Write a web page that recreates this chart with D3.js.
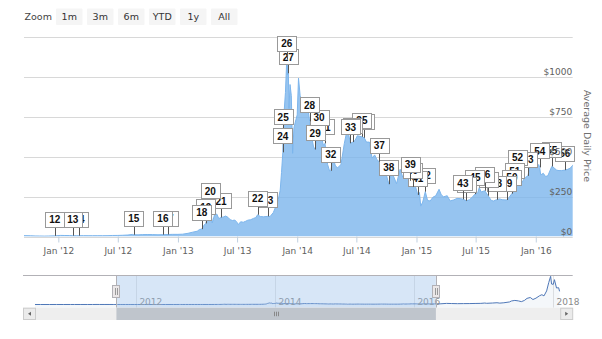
<!DOCTYPE html>
<html>
<head>
<meta charset="utf-8">
<script src="https://cdn.jsdelivr.net/npm/d3@7/dist/d3.min.js"></script>
<style>
  html, body { margin: 0; padding: 0; background: #fff; }
  svg { display: block; font-family: "DejaVu Sans", sans-serif; }
</style>
</head>
<body>
<svg id="chart" width="602" height="339"></svg>
<script>
// Average daily bitcoin price (USD), viewed window
const avgPrice = [
  ["2011-09-10", 5.5], ["2011-09-24", 5.2], ["2011-10-08", 4.5], ["2011-10-22", 3.4],
  ["2011-11-05", 3.0], ["2011-11-19", 2.4], ["2011-12-03", 3.0], ["2011-12-21", 4.0],
  ["2012-01-07", 6.8], ["2012-01-21", 6.3], ["2012-02-04", 5.9], ["2012-02-14", 5.0],
  ["2012-02-25", 4.9], ["2012-03-04", 5.0], ["2012-03-18", 5.3], ["2012-04-01", 4.9],
  ["2012-04-15", 4.9], ["2012-05-01", 5.0], ["2012-05-15", 5.0], ["2012-06-01", 5.3],
  ["2012-06-15", 6.4], ["2012-07-01", 6.7], ["2012-07-15", 7.6], ["2012-08-01", 9.3],
  ["2012-08-15", 13.0], ["2012-08-19", 11.0], ["2012-09-01", 10.2], ["2012-09-15", 11.8],
  ["2012-10-01", 12.4], ["2012-10-15", 11.8], ["2012-11-01", 10.7], ["2012-11-16", 11.5],
  ["2012-12-02", 12.5], ["2012-12-15", 13.4], ["2013-01-01", 13.4], ["2013-01-15", 14.5],
  ["2013-02-01", 20], ["2013-02-15", 27], ["2013-03-01", 33], ["2013-03-08", 44],
  ["2013-03-15", 46], ["2013-03-21", 68], ["2013-03-27", 82], ["2013-04-03", 125],
  ["2013-04-10", 182], ["2013-04-16", 85], ["2013-04-23", 135], ["2013-04-30", 140],
  ["2013-05-06", 112], ["2013-05-13", 119], ["2013-05-20", 122], ["2013-05-27", 128],
  ["2013-06-03", 120], ["2013-06-10", 105], ["2013-06-17", 100], ["2013-06-24", 103],
  ["2013-07-01", 88], ["2013-07-05", 75], ["2013-07-12", 92], ["2013-07-20", 89],
  ["2013-07-27", 95], ["2013-08-03", 102], ["2013-08-12", 105], ["2013-08-20", 113],
  ["2013-08-27", 118], ["2013-09-02", 136], ["2013-09-10", 125], ["2013-09-20", 123],
  ["2013-10-03", 126], ["2013-10-10", 125], ["2013-10-20", 150], ["2013-10-28", 190],
  ["2013-11-04", 230], ["2013-11-10", 290], ["2013-11-14", 400], ["2013-11-18", 526],
  ["2013-11-19", 644], ["2013-11-22", 780], ["2013-11-26", 900], ["2013-11-30", 1105],
  ["2013-12-02", 1010], ["2013-12-04", 1090], ["2013-12-05", 1020], ["2013-12-07", 800],
  ["2013-12-10", 950], ["2013-12-14", 880], ["2013-12-18", 520], ["2013-12-22", 680],
  ["2013-12-28", 730], ["2014-01-01", 760], ["2014-01-05", 990], ["2014-01-10", 880],
  ["2014-01-17", 830], ["2014-01-25", 840], ["2014-02-01", 830], ["2014-02-08", 720],
  ["2014-02-13", 640], ["2014-02-20", 560], ["2014-02-25", 544], ["2014-03-03", 670],
  ["2014-03-09", 640], ["2014-03-15", 635], ["2014-03-22", 570], ["2014-03-27", 582],
  ["2014-04-04", 450], ["2014-04-10", 410], ["2014-04-14", 411], ["2014-04-20", 500],
  ["2014-04-28", 440], ["2014-05-05", 430], ["2014-05-15", 450], ["2014-05-25", 580],
  ["2014-06-01", 650], ["2014-06-05", 660], ["2014-06-13", 583], ["2014-06-20", 590],
  ["2014-06-27", 600], ["2014-07-04", 630], ["2014-07-18", 623], ["2014-07-25", 617],
  ["2014-08-01", 590], ["2014-08-10", 590], ["2014-08-18", 490], ["2014-08-26", 510],
  ["2014-09-02", 480], ["2014-09-09", 467], ["2014-09-18", 420], ["2014-09-24", 410],
  ["2014-10-01", 385], ["2014-10-08", 327], ["2014-10-14", 395], ["2014-10-22", 380],
  ["2014-11-01", 330], ["2014-11-12", 420], ["2014-11-20", 370], ["2014-11-28", 375],
  ["2014-12-05", 370], ["2014-12-13", 348], ["2014-12-20", 310], ["2014-12-28", 320],
  ["2015-01-05", 260], ["2015-01-10", 275], ["2015-01-14", 190], ["2015-01-20", 215],
  ["2015-01-28", 280], ["2015-02-04", 225], ["2015-02-12", 222], ["2015-02-20", 245],
  ["2015-03-01", 255], ["2015-03-11", 295], ["2015-03-18", 260], ["2015-03-25", 248],
  ["2015-04-05", 255], ["2015-04-14", 222], ["2015-04-24", 228], ["2015-05-05", 238],
  ["2015-05-15", 237], ["2015-05-23", 233], ["2015-06-03", 223], ["2015-06-12", 230],
  ["2015-06-20", 244], ["2015-06-29", 265], ["2015-07-07", 270], ["2015-07-12", 305],
  ["2015-07-18", 278], ["2015-07-29", 286], ["2015-08-08", 255], ["2015-08-18", 225],
  ["2015-08-25", 222], ["2015-09-03", 230], ["2015-09-12", 235], ["2015-09-20", 230],
  ["2015-10-04", 228], ["2015-10-12", 246], ["2015-10-20", 268], ["2015-10-29", 307],
  ["2015-11-04", 420], ["2015-11-06", 390], ["2015-11-11", 320], ["2015-11-18", 330],
  ["2015-11-26", 360], ["2015-12-01", 370], ["2015-12-08", 379], ["2015-12-15", 450],
  ["2015-12-22", 440], ["2015-12-30", 430], ["2016-01-05", 430], ["2016-01-10", 450],
  ["2016-01-13", 432], ["2016-01-16", 385], ["2016-01-24", 395], ["2016-01-31", 375],
  ["2016-02-07", 380], ["2016-02-19", 438], ["2016-02-26", 430], ["2016-03-04", 415],
  ["2016-03-12", 412], ["2016-03-20", 412], ["2016-03-30", 415], ["2016-04-08", 420],
  ["2016-04-16", 428], ["2016-04-25", 450]
];

// Longer history shown only in the navigator strip
const historyBefore = [
  ["2010-07-17", 0.05], ["2010-08-15", 0.07], ["2010-10-01", 0.06], ["2010-11-07", 0.35],
  ["2010-12-15", 0.24], ["2011-01-20", 0.4], ["2011-02-10", 1.0], ["2011-03-15", 0.85],
  ["2011-04-20", 1.5], ["2011-05-15", 7], ["2011-06-08", 29], ["2011-06-20", 16],
  ["2011-07-15", 14], ["2011-08-15", 11], ["2011-09-01", 8]
];
const historyAfter = [
  ["2016-05-15", 455], ["2016-06-18", 750], ["2016-07-15", 660], ["2016-08-15", 575],
  ["2016-09-15", 610], ["2016-10-15", 640], ["2016-11-15", 710], ["2016-12-15", 780],
  ["2017-01-05", 1000], ["2017-01-15", 820], ["2017-02-15", 1010], ["2017-03-10", 1200],
  ["2017-03-25", 950], ["2017-04-15", 1180], ["2017-05-15", 1750], ["2017-05-25", 2400],
  ["2017-06-12", 2800], ["2017-07-01", 2450], ["2017-07-16", 1950], ["2017-08-01", 2750],
  ["2017-08-15", 4200], ["2017-09-01", 4800], ["2017-09-15", 3400], ["2017-10-01", 4350],
  ["2017-10-20", 6000], ["2017-11-01", 6700], ["2017-11-12", 5900], ["2017-11-26", 9300],
  ["2017-12-07", 15000], ["2017-12-17", 19300], ["2017-12-22", 14000], ["2017-12-31", 13800],
  ["2018-01-06", 17000], ["2018-01-17", 11300], ["2018-01-28", 11500], ["2018-02-02", 9000]
];

// Event flags, placed on the price series
const flagDates = [
  "2011-12-21", "2012-02-14", "2012-03-04", "2012-08-19", "2012-11-16", "2012-12-02",
  "2013-03-15", "2013-03-27", "2013-04-10", "2013-05-13", "2013-09-02", "2013-10-03",
  "2013-11-18", "2013-11-19", "2013-11-30", "2013-12-05", "2014-02-08", "2014-02-25",
  "2014-03-09", "2014-03-27", "2014-04-14", "2014-06-13", "2014-06-20", "2014-07-18",
  "2014-07-25", "2014-09-09", "2014-10-08", "2014-12-13", "2014-12-20", "2015-01-05",
  "2015-01-28", "2015-05-23", "2015-06-03", "2015-06-29", "2015-07-29", "2015-08-08",
  "2015-09-03", "2015-10-04", "2015-10-20", "2015-10-29", "2015-11-06", "2015-12-08",
  "2016-01-13", "2016-02-19", "2016-03-30"
];
const flagTitles = d3.range(12, 57).map(String);

const zoomButtons = ["1m", "3m", "6m", "YTD", "1y", "All"];
const yTicks = [0, 250, 500, 750, 1000, 1250];
const viewRange = ["2011-09-18", "2016-04-23"];
const navRange = ["2010-05-15", "2018-04-12"];
const navYears = ["2012", "2014", "2016", "2018"];

const parse = d3.utcParse("%Y-%m-%d");
const toPoints = arr => arr.map(([d, v]) => ({ date: parse(d), value: v }));
const series = toPoints(avgPrice);
const fullSeries = toPoints(historyBefore).concat(series, toPoints(historyAfter));

const svg = d3.select("#chart");
const plot = { left: 24, right: 572.7, top: 36.5, bottom: 236.5 };
const crisp = v => Math.round(v) + 0.5;

const x = d3.scaleUtc().domain(viewRange.map(parse)).range([plot.left, plot.right]);
const y = d3.scaleLinear().domain([0, 1250]).range([plot.bottom, plot.top]);

// ---- range selector ----
const sel = svg.append("g");
sel.append("text").attr("x", 24.5).attr("y", 20).attr("font-size", 9.5)
  .attr("fill", "#444").text("Zoom");
zoomButtons.forEach((b, i) => {
  const bx = 56 + i * 31;
  sel.append("rect").attr("x", bx).attr("y", 8.5).attr("width", 26.5).attr("height", 16.5)
    .attr("rx", 1).attr("fill", "#f5f5f5");
  sel.append("text").attr("x", bx + 13.25).attr("y", 20).attr("text-anchor", "middle")
    .attr("font-size", 9.5).attr("fill", "#333").text(b);
});

// ---- grid ----
svg.append("g").selectAll("line").data(yTicks).join("line")
  .attr("x1", plot.left).attr("x2", plot.right)
  .attr("y1", d => crisp(y(d))).attr("y2", d => crisp(y(d)))
  .attr("stroke", "#d8d8d8").attr("stroke-width", 1);

// ---- price area ----
svg.append("clipPath").attr("id", "plotClip").append("rect")
  .attr("x", plot.left).attr("y", plot.top - 30)
  .attr("width", plot.right - plot.left).attr("height", plot.bottom - plot.top + 30);

const area = d3.area().x(d => x(d.date)).y0(y(0)).y1(d => y(d.value));
const line = d3.line().x(d => x(d.date)).y(d => y(d.value));
const body = svg.append("g").attr("clip-path", "url(#plotClip)");
body.append("path").datum(series).attr("d", area)
  .attr("fill", "#7cb5ec").attr("fill-opacity", 0.8);
body.append("path").datum(series).attr("d", line)
  .attr("fill", "none").attr("stroke", "#7cb5ec").attr("stroke-width", 1);

// ---- x axis ----
const xTicks = d3.utcMonth.every(6).range(x.domain()[0], x.domain()[1]);
const xAxis = svg.append("g").attr("transform", `translate(0,${plot.bottom})`)
  .call(d3.axisBottom(x).tickValues(xTicks).tickFormat(d3.utcFormat("%b '%y"))
    .tickSize(6).tickPadding(5.5));
xAxis.select(".domain").remove();
xAxis.selectAll(".tick line").attr("stroke", "#c0d0e0");
xAxis.selectAll(".tick text").attr("fill", "#606060").attr("font-size", 9)
  .attr("font-family", "DejaVu Sans, sans-serif");

// ---- flags ----
const bisect = d3.bisector(d => d.date).center;
const flags = flagDates.map((d, i) => {
  const date = parse(d);
  const p = series[bisect(series, date)];
  return { date, value: p.value, title: flagTitles[i] };
});
const flagLayer = svg.append("g");
flags.slice().reverse().forEach(f => {
  const px = x(f.date), py = y(f.value);
  const bottom = py - 9, top = bottom - 15;
  const g = flagLayer.append("g");
  g.append("line").attr("x1", crisp(px)).attr("x2", crisp(px))
    .attr("y1", bottom).attr("y2", py).attr("stroke", "#555").attr("stroke-width", 1);
  const rect = g.append("rect").attr("y", crisp(top)).attr("height", 15)
    .attr("fill", "#fff").attr("stroke", "#999").attr("stroke-width", 1);
  const t = g.append("text").attr("x", px).attr("y", top + 11.3)
    .attr("text-anchor", "middle").attr("font-family", "Liberation Sans, Arial, sans-serif")
    .attr("font-weight", "bold").attr("font-size", 10).attr("fill", "#111").text(f.title);
  const w = Math.round(t.node().getComputedTextLength() + 8);
  rect.attr("x", crisp(px - w / 2)).attr("width", w);
});

// ---- y axis labels (opposite side, inside plot) ----
svg.append("g").selectAll("text").data(yTicks.slice(0, -1)).join("text")
  .attr("x", plot.right - 0.5).attr("y", d => y(d) - 2)
  .attr("text-anchor", "end").attr("font-size", 9).attr("fill", "#606060")
  .text(d => "$" + d);
svg.append("text")
  .attr("transform", `translate(583.5,136) rotate(90)`)
  .attr("text-anchor", "middle").attr("font-size", 9.5).attr("fill", "#707070")
  .text("Average Daily Price");

// ---- navigator ----
const nav = { left: 23, right: 572.7, top: 275, bottom: 307.7 };
const nx = d3.scaleUtc().domain(navRange.map(parse)).range([nav.left, nav.right]);
const ny = d3.scaleLinear().domain([0, 19300]).range([304.5, 276.3]);
const navG = svg.append("g");

navYears.forEach(yr => {
  const gx = crisp(nx(parse(yr + "-01-01")));
  navG.append("line").attr("x1", gx).attr("x2", gx).attr("y1", nav.top).attr("y2", nav.bottom)
    .attr("stroke", "#e4e4e4");
});
navG.append("path").datum(fullSeries)
  .attr("d", d3.area().x(d => nx(d.date)).y0(nav.bottom).y1(d => ny(d.value)))
  .attr("fill", "#4572a7").attr("fill-opacity", 0.06);
navG.append("path").datum(fullSeries)
  .attr("d", d3.line().x(d => nx(d.date)).y(d => ny(d.value)))
  .attr("fill", "none").attr("stroke", "#4f78b8").attr("stroke-width", 1);

navYears.forEach(yr => {
  navG.append("text").attr("x", nx(parse(yr + "-01-01")) + 3).attr("y", 305)
    .attr("font-size", 9).attr("fill", "#8a8a8a").text(yr);
});

const mx0 = nx(x.domain()[0]), mx1 = nx(x.domain()[1]);
navG.append("rect").attr("x", mx0).attr("y", nav.top).attr("width", mx1 - mx0)
  .attr("height", nav.bottom - nav.top).attr("fill", "rgb(150,190,235)").attr("fill-opacity", 0.38);

navG.append("path")
  .attr("d", `M${nav.left},${nav.top + 0.5}H${nav.right}` +
    `M${crisp(mx0)},${nav.top}V${nav.bottom}M${crisp(mx1)},${nav.top}V${nav.bottom}`)
  .attr("stroke", "#b2b1b6").attr("fill", "none");

// scrollbar
const sb = { top: 307.7, h: 12.3 };
navG.append("rect").attr("x", nav.left).attr("y", sb.top).attr("width", nav.right - nav.left)
  .attr("height", sb.h).attr("fill", "#eeeeee");
navG.append("rect").attr("x", mx0).attr("y", sb.top).attr("width", mx1 - mx0)
  .attr("height", sb.h).attr("fill", "#bfc5cc");
const midX = Math.round((mx0 + mx1) / 2);
[-2, 0, 2].forEach(o => navG.append("line")
  .attr("x1", midX + o + 0.5).attr("x2", midX + o + 0.5)
  .attr("y1", sb.top + 4).attr("y2", sb.top + 8.5).attr("stroke", "#888"));
[[nav.left, -1], [nav.right - 12.5, 1]].forEach(([bx, dir]) => {
  navG.append("rect").attr("x", bx + 0.5).attr("y", sb.top + 0.5).attr("width", 12)
    .attr("height", sb.h - 1).attr("fill", "#ebebeb").attr("stroke", "#cccccc");
  const cx = bx + 6.5, cy = sb.top + sb.h / 2;
  navG.append("path")
    .attr("d", `M${cx - 1.5 * dir},${cy - 2}L${cx + 1.5 * dir},${cy}L${cx - 1.5 * dir},${cy + 2}Z`)
    .attr("fill", "#666");
});

// navigator handles
[mx0, mx1].forEach(hx => {
  const c = Math.round(hx);
  navG.append("rect").attr("x", c - 3.5).attr("y", 285.5).attr("width", 7).attr("height", 12)
    .attr("fill", "#ebe7e8").attr("stroke", "#b2b1b6");
  [-1, 1].forEach(o => navG.append("line")
    .attr("x1", c + o + 0.5).attr("x2", c + o + 0.5).attr("y1", 288).attr("y2", 295)
    .attr("stroke", "#999"));
});
</script>
</body>
</html>
